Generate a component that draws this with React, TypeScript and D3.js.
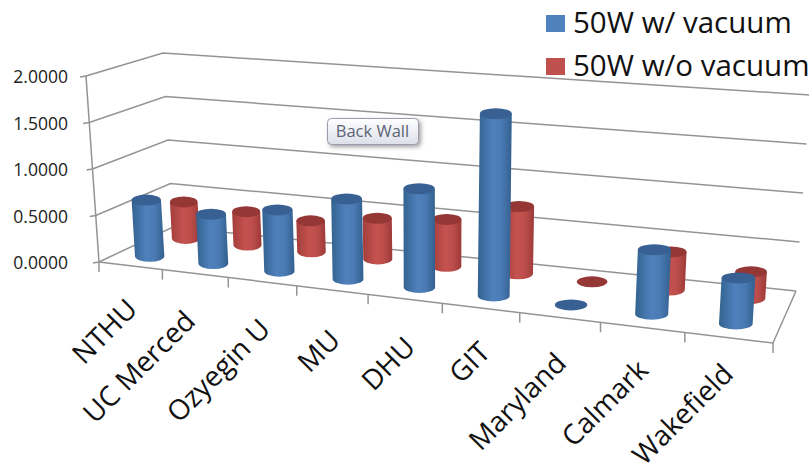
import React from 'react';
import * as d3 from 'd3';

const categories = ['NTHU', 'UC Merced', 'Ozyegin U', 'MU', 'DHU', 'GIT', 'Maryland', 'Calmark', 'Wakefield'];
const withVacuum = [0.61, 0.53, 0.65, 0.84, 1.02, 1.86, 0, 0.64, 0.45];
const withoutVacuum = [0.41, 0.37, 0.34, 0.44, 0.5, 0.71, 0, 0.39, 0.27];
const valueTicks = [0, 0.5, 1, 1.5, 2];
const seriesNames = ['50W w/ vacuum', '50W w/o vacuum'];
// where each rotated category label ends
const labelEnds = [[125, 297], [183, 309], [258, 317], [328, 328], [403, 335], [478, 340], [554, 351], [636, 358], [721, 362]];

const width = 809;
const height = 474;

type Pt = [number, number];

// maps the unit square onto a quad: (0,0)=a (1,0)=b (1,1)=c (0,1)=d
const homography = (a: Pt, b: Pt, c: Pt, d: Pt) => {
  const dx1 = b[0] - c[0], dx2 = d[0] - c[0], sx = a[0] - b[0] + c[0] - d[0];
  const dy1 = b[1] - c[1], dy2 = d[1] - c[1], sy = a[1] - b[1] + c[1] - d[1];
  const den = dx1 * dy2 - dx2 * dy1;
  const g = (sx * dy2 - dx2 * sy) / den;
  const h = (dx1 * sy - sx * dy1) / den;
  const m = [b[0] - a[0] + g * b[0], d[0] - a[0] + h * d[0], a[0], b[1] - a[1] + g * b[1], d[1] - a[1] + h * d[1], a[1]];
  return (u: number, v: number): Pt => {
    const w = g * u + h * v + 1;
    return [(m[0] * u + m[1] * v + m[2]) / w, (m[3] * u + m[4] * v + m[5]) / w];
  };
};

const floor = homography([99, 262], [773, 343], [796, 291], [173, 227]);
// verticals fan out a little: how far x moves and how tall 2.0 is, by screen x
const lean = d3.scaleLinear().domain([99, 796]).range([-13, 14]);
const frontTall = d3.scaleLinear().domain([99, 773]).range([186, 209]);
const backTall = d3.scaleLinear().domain([173, 796]).range([174, 196]);

const uScale = d3.scaleBand<string>().domain(categories).range([0, 1]);
const hScale = d3.scaleLinear().domain([0, 2]).range([0, 1]);

// the front ticks in the picture are a bit less squeezed than the corners alone give
const warp = (u: number) => (1.06 * u) / (1 + 0.06 * u);

const project = (u: number, v: number, value: number): Pt => {
  const f = floor(warp(u), v);
  const t = hScale(value);
  const tall = frontTall(f[0]) * (1 - v) + backTall(f[0]) * v;
  return [f[0] + lean(f[0]) * t, f[1] - tall * t];
};

const linePath = d3.line<Pt>();
const fmt = d3.format('.4f');
const radius = d3.scaleLinear().domain([100, 780]).range([14.5, 17]);
const gridColor = '#949494';

const Cylinder = ({ i, value, depth, kind }: { i: number; value: number; depth: number; kind: string }) => {
  const u = (uScale(categories[i]) as number) + uScale.bandwidth() / 2;
  const base = project(u, depth, 0);
  const top = project(u, depth, value);
  const rx = radius(base[0]) - (kind === 'red' ? 1 : 0);
  const ry = 5.5;
  const capColor = kind === 'red' ? '#953735' : '#376092';
  if (value === 0) return <ellipse cx={base[0]} cy={base[1]} rx={rx} ry={ry} fill={capColor} />;
  const body = `M${top[0] - rx},${top[1]} L${base[0] - rx},${base[1]} A${rx},${ry} 0 0 0 ${base[0] + rx},${base[1]} L${top[0] + rx},${top[1]} Z`;
  return (
    <g>
      <path d={body} fill={`url(#${kind}Body)`} />
      <ellipse cx={top[0]} cy={top[1]} rx={rx} ry={ry} fill={capColor} />
    </g>
  );
};

export default function App() {
  const wallLines = valueTicks.map((t) => [project(0, 0, t), project(0, 1, t), project(1, 1, t)]);
  return (
    <svg width={width} height={height} style={{ position: 'absolute', left: 0, top: 0, background: '#fff' }} fontFamily="'Open Sans', sans-serif">
      <defs>
        <linearGradient id="blueBody" x1="0" x2="1" y1="0" y2="0">
          <stop offset="0" stopColor="#33628f" />
          <stop offset="0.45" stopColor="#4f81bd" />
          <stop offset="0.7" stopColor="#4a7ab3" />
          <stop offset="1" stopColor="#33608f" />
        </linearGradient>
        <linearGradient id="redBody" x1="0" x2="1" y1="0" y2="0">
          <stop offset="0" stopColor="#a33e3b" />
          <stop offset="0.45" stopColor="#c4524f" />
          <stop offset="0.7" stopColor="#bd4e4b" />
          <stop offset="1" stopColor="#9c3a38" />
        </linearGradient>
        <linearGradient id="tipFill" x1="0" x2="0" y1="0" y2="1">
          <stop offset="0" stopColor="#ffffff" />
          <stop offset="1" stopColor="#dcdfe8" />
        </linearGradient>
        <filter id="soft" x="-5%" y="-5%" width="110%" height="110%">
          <feGaussianBlur stdDeviation="0.5" />
        </filter>
        <filter id="tipShadow" x="-10%" y="-20%" width="125%" height="150%">
          <feDropShadow dx="2" dy="2" stdDeviation="2" floodColor="#777" floodOpacity="0.7" />
        </filter>
      </defs>
      <g filter="url(#soft)">
        {wallLines.map((pts, i) => (
          <path key={i} d={linePath(pts) as string} fill="none" stroke={gridColor} strokeWidth={1.5} />
        ))}
        <path d={linePath([project(0, 0, 0), project(1, 0, 0), project(1, 1, 0)]) as string} fill="none" stroke={gridColor} strokeWidth={1.5} />
        <path d={linePath([project(0, 0, 0), project(0, 0, 2)]) as string} fill="none" stroke={gridColor} strokeWidth={1.5} />
        {valueTicks.map((t) => {
          const p = project(0, 0, t);
          return <path key={t} d={linePath([p, [p[0] - 6, p[1] + 1]]) as string} stroke={gridColor} strokeWidth={1.5} />;
        })}
        {d3.range(categories.length + 1).map((i) => {
          const p = project(i / categories.length, 0, 0);
          return <path key={i} d={linePath([p, [p[0], p[1] + 10]]) as string} stroke={gridColor} strokeWidth={1.5} />;
        })}
        {withoutVacuum.map((d, i) => <Cylinder key={i} i={i} value={d} depth={0.75} kind="red" />)}
        {withVacuum.map((d, i) => <Cylinder key={i} i={i} value={d} depth={0.25} kind="blue" />)}
      </g>
      {valueTicks.map((t) => {
        const p = project(0, 0, t);
        return (
          <text key={t} x={68} y={p[1] + 7} textAnchor="end" fontSize={17.5} fill="#222">{fmt(t)}</text>
        );
      })}
      {categories.map((c, i) => (
        <text key={c} transform={`translate(${labelEnds[i][0]},${labelEnds[i][1]}) rotate(-45)`} textAnchor="end" dy="0.7em" fontSize={28} fill="#111">{c}</text>
      ))}
      <g filter="url(#tipShadow)">
        <rect x={327.5} y={118.5} width={91} height={26} rx={4} fill="url(#tipFill)" stroke="#9a9eaa" />
      </g>
      <text x={372.5} y={136.5} textAnchor="middle" fontSize={16.5} fill="#5b6475">Back Wall</text>
      {seriesNames.map((s, i) => (
        <g key={s}>
          <rect x={546} y={15 + i * 43} width={19} height={17} fill={i === 0 ? '#4f81bd' : '#c0504d'} />
          <text x={573} y={33 + i * 43} fontSize={29.5} fill="#111">{s}</text>
        </g>
      ))}
    </svg>
  );
}
